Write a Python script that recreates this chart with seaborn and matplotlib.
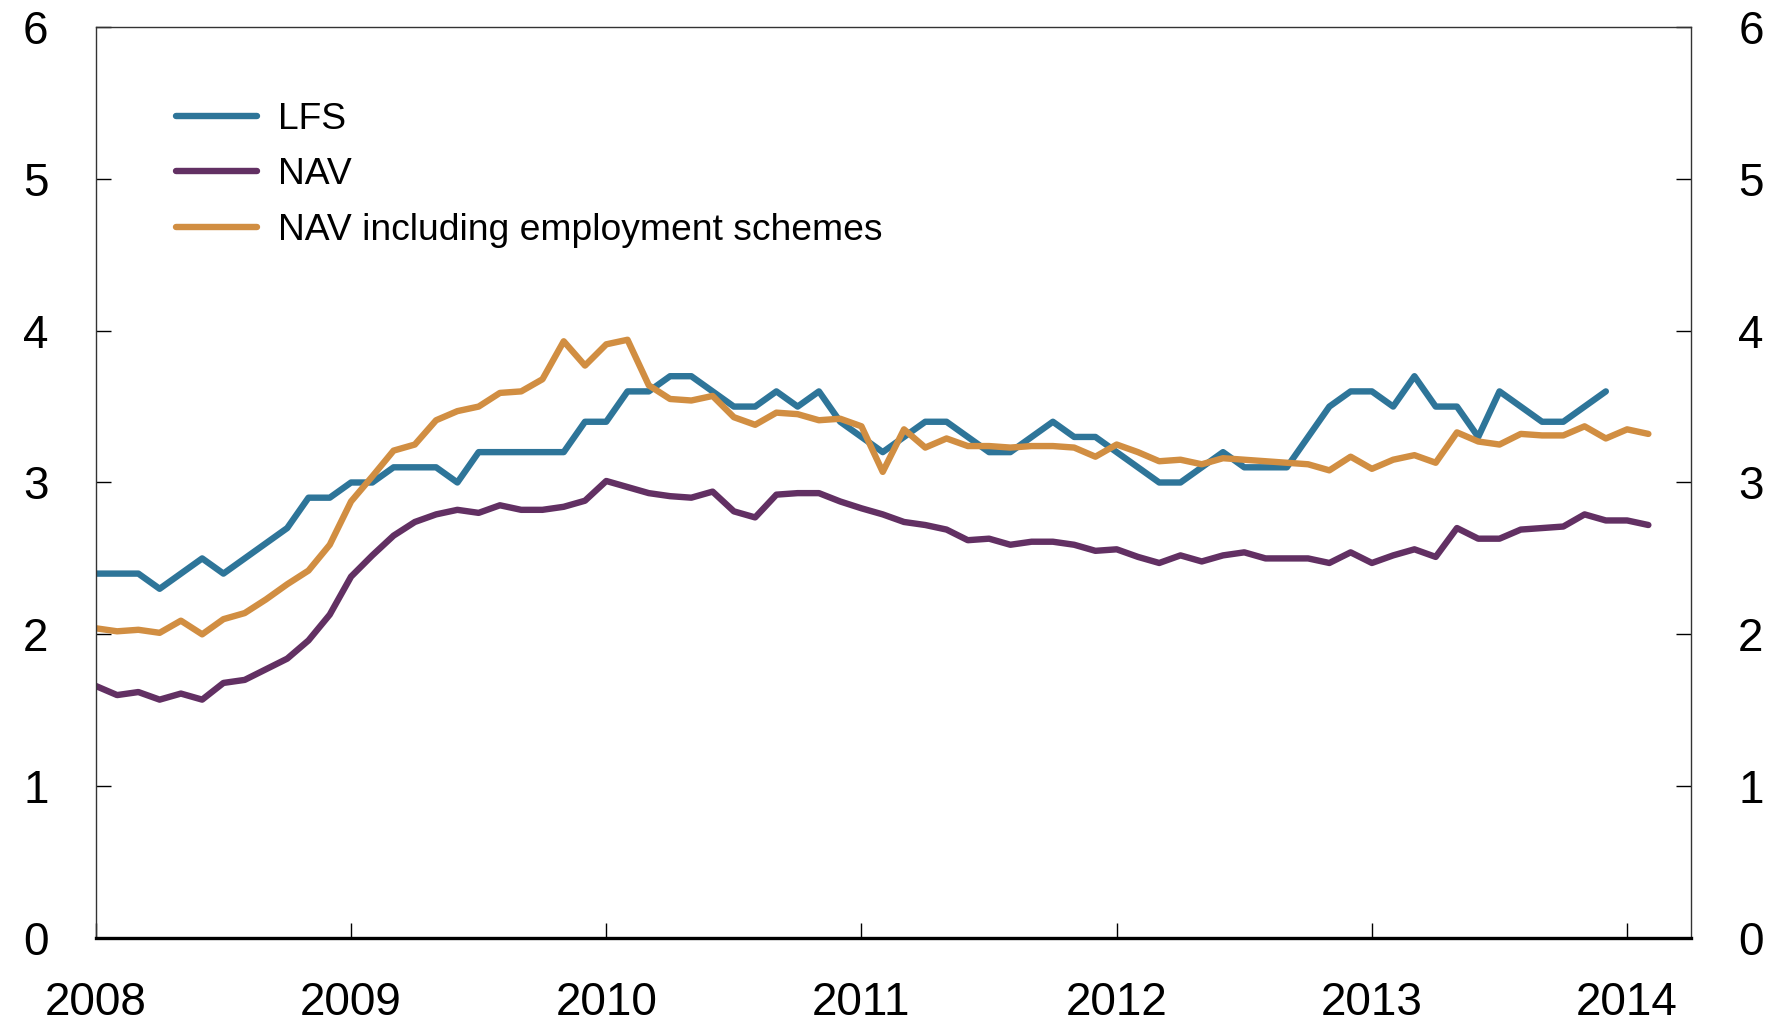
import matplotlib
matplotlib.use("Agg")
import matplotlib.pyplot as plt
import seaborn as sns
import numpy as np
import pandas as pd

# monthly unemployment rates, per cent, from Jan 2008
lfs = [2.4, 2.4, 2.4, 2.3, 2.4, 2.5, 2.4, 2.5, 2.6, 2.7, 2.9, 2.9,
       3.0, 3.0, 3.1, 3.1, 3.1, 3.0, 3.2, 3.2, 3.2, 3.2, 3.2, 3.4,
       3.4, 3.6, 3.6, 3.7, 3.7, 3.6, 3.5, 3.5, 3.6, 3.5, 3.6, 3.4,
       3.3, 3.2, 3.3, 3.4, 3.4, 3.3, 3.2, 3.2, 3.3, 3.4, 3.3, 3.3,
       3.2, 3.1, 3.0, 3.0, 3.1, 3.2, 3.1, 3.1, 3.1, 3.3, 3.5, 3.6,
       3.6, 3.5, 3.7, 3.5, 3.5, 3.3, 3.6, 3.5, 3.4, 3.4, 3.5, 3.6]
nav = [1.66, 1.60, 1.62, 1.57, 1.61, 1.57, 1.68, 1.70, 1.77, 1.84, 1.96, 2.13,
       2.38, 2.52, 2.65, 2.74, 2.79, 2.82, 2.80, 2.85, 2.82, 2.82, 2.84, 2.88,
       3.01, 2.97, 2.93, 2.91, 2.90, 2.94, 2.81, 2.77, 2.92, 2.93, 2.93, 2.875,
       2.83, 2.79, 2.74, 2.72, 2.69, 2.62, 2.63, 2.59, 2.61, 2.61, 2.59, 2.55,
       2.56, 2.51, 2.47, 2.52, 2.48, 2.52, 2.54, 2.50, 2.50, 2.50, 2.47, 2.54,
       2.47, 2.52, 2.56, 2.51, 2.70, 2.63, 2.63, 2.69, 2.70, 2.71, 2.79, 2.75,
       2.75, 2.72]
nav_incl = [2.04, 2.02, 2.03, 2.01, 2.09, 2.00, 2.10, 2.14, 2.23, 2.33, 2.42, 2.59,
            2.875, 3.04, 3.21, 3.25, 3.41, 3.47, 3.50, 3.59, 3.60, 3.68, 3.93, 3.77,
            3.91, 3.94, 3.64, 3.55, 3.54, 3.57, 3.43, 3.38, 3.46, 3.45, 3.41, 3.42,
            3.37, 3.07, 3.35, 3.23, 3.29, 3.24, 3.24, 3.23, 3.24, 3.24, 3.23, 3.17,
            3.25, 3.20, 3.14, 3.15, 3.12, 3.16, 3.15, 3.14, 3.13, 3.12, 3.08, 3.17,
            3.09, 3.15, 3.18, 3.13, 3.33, 3.27, 3.25, 3.32, 3.31, 3.31, 3.37, 3.29,
            3.35, 3.32]
series_names = ["LFS", "NAV", "NAV including employment schemes"]
colors = ["#2E7599", "#623063", "#D18E42"]
years = [2008, 2009, 2010, 2011, 2012, 2013, 2014]

frames = []
for name, vals in zip(series_names, [lfs, nav, nav_incl]):
    t = 2008 + np.arange(len(vals)) / 12
    frames.append(pd.DataFrame({"time": t, "value": vals, "series": name}))
df = pd.concat(frames, ignore_index=True)

sns.set_style("white")
plt.rcParams['font.family'] = ['Liberation Sans', 'DejaVu Sans']

fig = plt.figure(figsize=(17.68, 10.29), dpi=100)
ax = fig.add_axes([0.0542, 0.0884, 0.9022, 0.8854])
sns.lineplot(data=df, x="time", y="value", hue="series", hue_order=series_names,
             palette=colors, linewidth=4.6, ax=ax)

ax.set_xlim(2008, 2008 + 75 / 12)
ax.set_ylim(0, 6)
ax.set_xticks(years)
ax.set_xticklabels([str(y) for y in years])
ax.set_yticks(range(0, 7))
ax.set_xlabel("")
ax.set_ylabel("")

for s in ["left", "right", "top"]:
    ax.spines[s].set_linewidth(1.0)
    ax.spines[s].set_color("#333333")
ax.spines["bottom"].set_linewidth(2.4)
ax.spines["bottom"].set_color("black")

ax.tick_params(axis="y", which="both", direction="in", left=True, right=True,
               labelleft=True, labelright=True, length=11, width=1,
               pad=34, labelsize=33, colors="black")
ax.tick_params(axis="x", direction="in", bottom=True, top=False, length=11,
               width=1, pad=31, labelsize=33, colors="black")

handles, labels = ax.get_legend_handles_labels()
leg = ax.legend(handles, labels, loc="upper left", bbox_to_anchor=(0.05, 0.918),
                frameon=False, fontsize=26.8, handlelength=2.2, handletextpad=0.55,
                labelspacing=0.55, borderpad=0, borderaxespad=0)
for txt in leg.get_texts():
    txt.set_color("black")

fig.savefig("out.png", dpi=100)
